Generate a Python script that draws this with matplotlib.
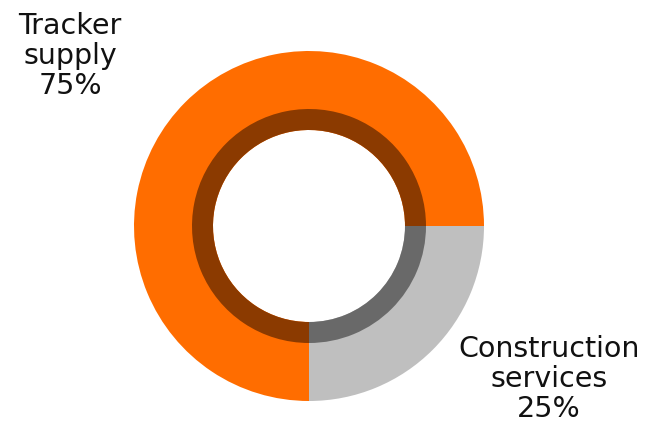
import matplotlib
matplotlib.use("Agg")
import matplotlib.pyplot as plt

categories = ["Tracker supply", "Construction services"]
shares = [75, 25]
outer_colors = ["#FF6D00", "#BFBFBF"]
inner_colors = ["#8B3A00", "#696969"]

W, H = 649, 423
fig = plt.figure(figsize=(W / 100, H / 100), dpi=100)
ax = fig.add_axes([0, 0, 1, 1])

cx, cy = 309, H - 226
ax.pie(shares, colors=outer_colors, startangle=0, counterclock=True,
       radius=175, center=(cx, cy), wedgeprops=dict(width=79, linewidth=0),
       frame=True)
ax.pie(shares, colors=inner_colors, startangle=0, counterclock=True,
       radius=117, center=(cx, cy), wedgeprops=dict(width=21, linewidth=0),
       frame=True)
ax.set_xlim(0, W)
ax.set_ylim(0, H)
ax.axis("off")

font = ["DejaVu Sans"]
ax.text(70, H - 56, "Tracker\nsupply\n75%", ha="center", va="center",
        fontsize=20.5, family=font, linespacing=1.08, color="#111111")
ax.text(549, H - 379, "Construction\nservices\n25%", ha="center", va="center",
        fontsize=20.5, family=font, linespacing=1.08, color="#111111")

fig.savefig("out.png", dpi=100)
